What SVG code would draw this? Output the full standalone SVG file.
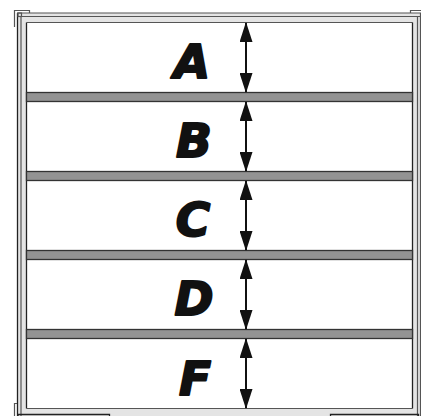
<svg xmlns="http://www.w3.org/2000/svg" width="421" height="416" viewBox="0 0 421 416">
<defs>
<style>
.frame{fill:#e4e4e4;stroke:none}
.ln{stroke:#555;stroke-width:1.2;fill:none}
.dk{stroke:#222;stroke-width:1.3;fill:none}
.shelf{fill:#939393;stroke:#333;stroke-width:1.3}
.lbl{font-family:"DejaVu Sans",sans-serif;font-weight:bold;font-style:italic;font-size:47px;fill:#111;stroke:#111;stroke-width:2;stroke-linejoin:round;text-anchor:middle}
.arr{stroke:#111;stroke-width:2;fill:none;marker-start:url(#ah);marker-end:url(#ah)}
</style>
<marker id="ah" viewBox="0 0 20 13" refX="19" refY="6.5" markerWidth="20" markerHeight="13" markerUnits="userSpaceOnUse" orient="auto-start-reverse">
<path d="M0,0 L20,6.5 L0,13 Z" fill="#111"/>
</marker>
</defs>
<rect width="421" height="416" fill="#fff"/>
<g id="frame">
<rect class="frame" x="17" y="13" width="10" height="403"/>
<rect class="frame" x="17" y="13" width="404" height="10"/>
<rect class="frame" x="412" y="13" width="9" height="403"/>
<rect class="frame" x="17" y="408" width="404" height="8"/>
<line class="dk" x1="17.5" y1="13" x2="17.5" y2="416"/>
<line class="ln" x1="21" y1="16" x2="21" y2="416"/>
<line class="dk" x1="26.5" y1="22.5" x2="26.5" y2="408.5"/>
<line class="ln" x1="17" y1="13" x2="421" y2="13"/>
<line class="ln" x1="21" y1="16.5" x2="421" y2="16.5"/>
<line class="ln" x1="26.5" y1="22.5" x2="412.5" y2="22.5"/>
<line class="dk" x1="412.5" y1="22.5" x2="412.5" y2="408.5"/>
<line class="ln" x1="417.5" y1="16.5" x2="417.5" y2="416"/>
<line class="ln" x1="420.5" y1="13" x2="420.5" y2="416"/>
<line class="ln" x1="26.5" y1="408.5" x2="412.5" y2="408.5"/>
<path class="ln" d="M14.5,27 V10.5 H29.5 V13"/>
<rect class="ln" x="18" y="13" width="3.5" height="3.5"/>
<path class="ln" d="M410.5,13 V10.5 H421"/>
<path class="ln" d="M14.5,416 V403.5 H17"/>
<path class="dk" d="M18,416 V414.5 H109.5 V416"/>
<path class="dk" d="M330.5,416 V414.5 H418.5 V416"/>
</g>
<g id="shelves">
<rect class="shelf" x="26.5" y="92.5" width="386" height="9"/>
<rect class="shelf" x="26.5" y="171.5" width="386" height="9"/>
<rect class="shelf" x="26.5" y="250.5" width="386" height="9"/>
<rect class="shelf" x="26.5" y="329.5" width="386" height="9"/>
</g>
<g id="labels">
<g id="node-A"><text class="lbl" x="192" y="78">A</text></g>
<g id="node-B"><text class="lbl" x="194" y="157">B</text></g>
<g id="node-C"><text class="lbl" x="193" y="236">C</text></g>
<g id="node-D"><text class="lbl" x="194" y="315">D</text></g>
<g id="node-F"><text class="lbl" x="195" y="395">F</text></g>
</g>
<g id="connectors">
<line class="arr" x1="246" y1="23" x2="246" y2="92"/>
<line class="arr" x1="246" y1="102" x2="246" y2="171"/>
<line class="arr" x1="246" y1="181" x2="246" y2="250"/>
<line class="arr" x1="246" y1="260" x2="246" y2="329"/>
<line class="arr" x1="246" y1="339" x2="246" y2="408"/>
</g>
</svg>
